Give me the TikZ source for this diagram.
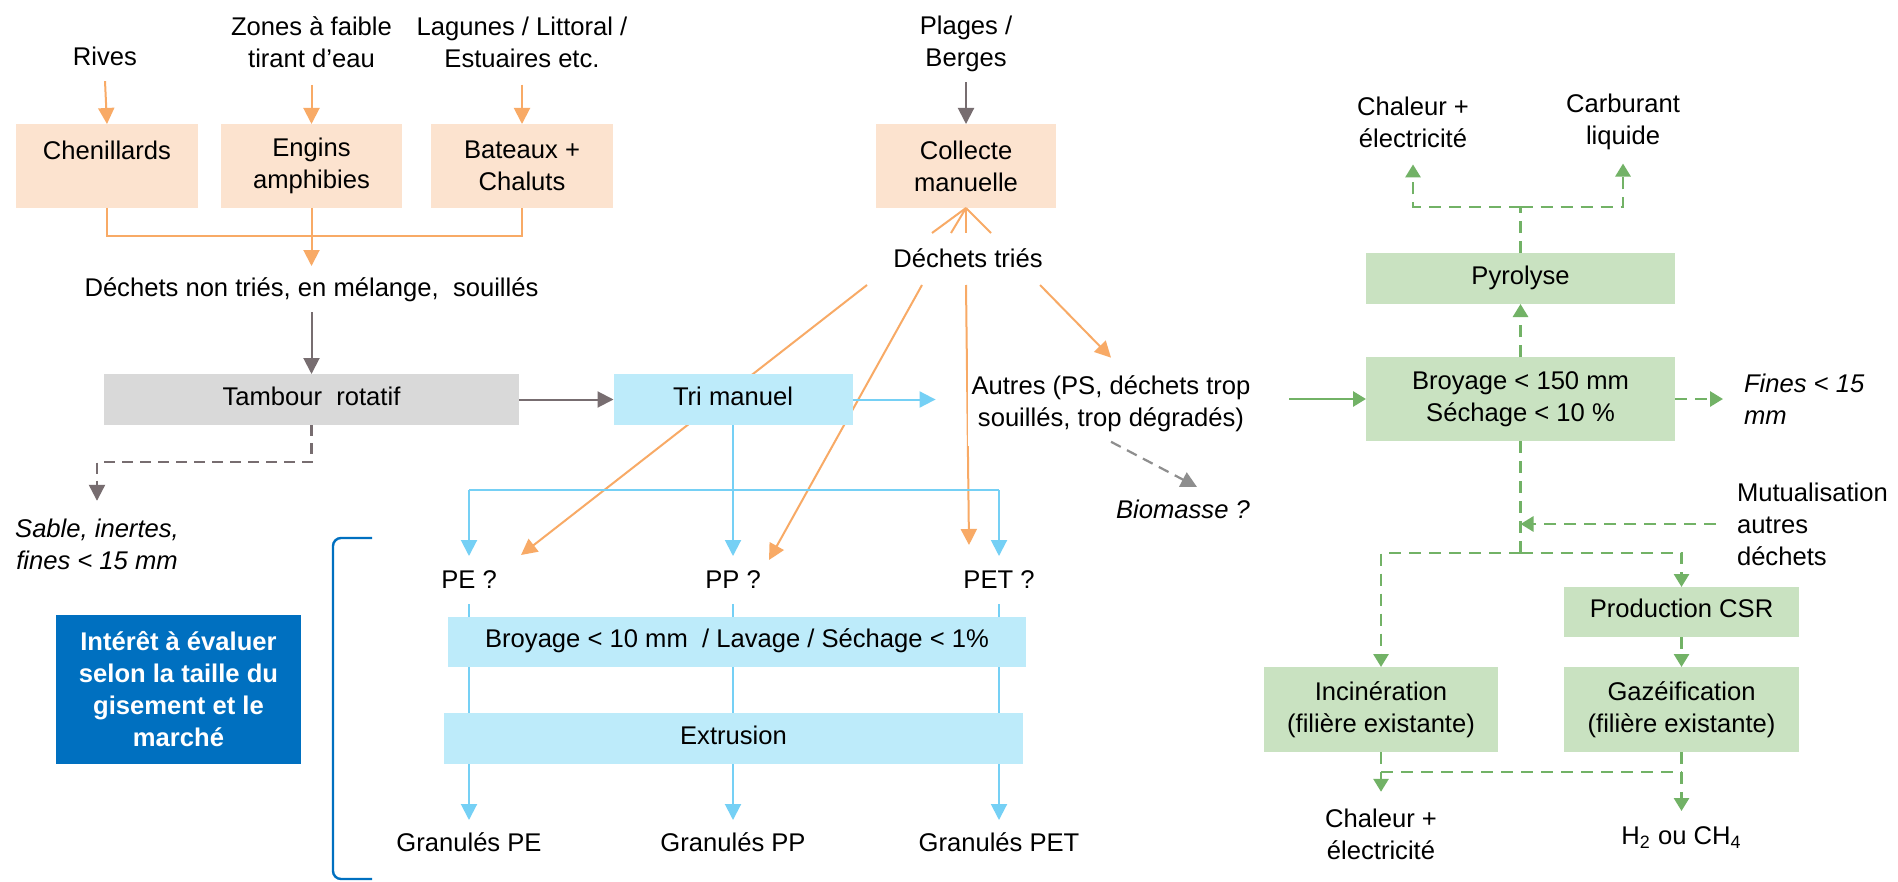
\documentclass[tikz,border=0pt]{standalone}
\usepackage{fontspec}
\setmainfont{Liberation Sans}
\usetikzlibrary{arrows.meta,calc}
\pgfdeclarelayer{back}
\pgfdeclarelayer{bg}
\pgfsetlayers{back,bg,main}
\definecolor{cPeach}{HTML}{FCE3CF}
\definecolor{cOr}{HTML}{F8AA66}
\definecolor{cGr}{HTML}{776D70}
\definecolor{cGrBox}{HTML}{D9D9D9}
\definecolor{cLb}{HTML}{BDEBFA}
\definecolor{cBl}{HTML}{75D0F5}
\definecolor{cGf}{HTML}{C9E2C1}
\definecolor{cGl}{HTML}{72B266}
\definecolor{cDb}{HTML}{0070C0}
\definecolor{cBio}{HTML}{8E8E8E}
\begin{document}
\begin{tikzpicture}[x=0.5pt,y=-0.5pt,
  every node/.style={inner sep=0pt,outer sep=0pt,align=center,font=\fontsize{12.8}{16}\selectfont},
  itf/.style={font=\fontsize{12.8}{16}\selectfont\itshape},
  t1/.style={text height=0.8em,text depth=0.25em},
  obox/.style={fill=cPeach,minimum width=91pt,minimum height=42pt},
  bbox/.style={fill=cLb,t1},
  gbox/.style={fill=cGf},
  tip/.style={-{Triangle[length=8pt,width=8pt]}},
  gtip/.style={-{Triangle[length=6.5pt,width=7.5pt]}},
  ol/.style={draw=cOr,line width=1pt},
  oa/.style={ol,tip},
  ga/.style={draw=cGr,line width=1pt,tip},
  gd/.style={draw=cGr,line width=1.1pt,dash pattern=on 5.5pt off 3.5pt,tip},
  bd/.style={draw=cBio,line width=1.1pt,dash pattern=on 5.5pt off 3.5pt,tip},
  bl/.style={draw=cBl,line width=1pt},
  ba/.style={bl,tip},
  grl/.style={draw=cGl,line width=1.4pt,dash pattern=on 6pt off 4pt},
  gra/.style={grl,gtip},
  gsa/.style={draw=cGl,line width=1.4pt,gtip},
  brk/.style={draw=cDb,line width=1.2pt,rounded corners=4pt}
]
\begin{pgfonlayer}{back}
\fill[white] (0,0) rectangle (1898,882);
\end{pgfonlayer}
\useasboundingbox (0,0) rectangle (1898,882);

% ---------- top sources ----------
\node[t1] (rives) at (105,60) {Rives};
\node (zones) at (311.5,42.5) {Zones à faible\\tirant d’eau};
\node (lag) at (522,42.5) {Lagunes / Littoral /\\Estuaires etc.};
\node (plag) at (966,43.7) {Plages /\\Berges};

\node[obox] (chen) at (107,166) {Chenillards\\\mbox{}};
\node[obox,minimum width=90.5pt] (eng) at (311.5,166) {Engins\\amphibies};
\node[obox] (bat) at (522,166) {Bateaux +\\Chaluts};
\node[obox,minimum width=90pt] (coll) at (966,166) {Collecte\\manuelle};

\draw[oa] ([yshift=-5.3pt]rives.south) -- (chen.north);
\draw[oa] ([yshift=-8.4pt]zones.south) -- (eng.north);
\draw[oa] ([yshift=-8.4pt]lag.south) -- (bat.north);
\draw[ga] ([yshift=-5.2pt]plag.south) -- (coll.north);

\coordinate (mrg) at (311.5,236);
\node[t1] (dnt) at (311.5,291) {Déchets non triés, en mélange,~ souillés};
\draw[ol] (chen.south) -- (chen.south |- mrg) -- (bat.south |- mrg) -- (bat.south);
\draw[oa] (eng.south) -- ([yshift=7.25pt]dnt.north);

% ---------- tambour / tri ----------
\node[fill=cGrBox,t1,minimum width=207.5pt,minimum height=25.5pt] (tam) at (311.5,399.5) {Tambour~ rotatif};
\node[bbox,minimum width=119.5pt,minimum height=25.5pt] (tri) at (733,399.5) {Tri manuel};
\draw[ga] ([yshift=-5.3pt]dnt.south) -- (tam.north);
\draw[ga] (tam.east) -- (tri.west);

\node[itf] (sab) at (97,544) {Sable, inertes,\\fines < 15 mm};
\coordinate (k1) at (311.5,462);
\draw[gd] (tam.south) -- (k1) -| ([yshift=8.9pt]sab.north);

% ---------- dechets tries ----------
\node[t1] (dtr) at (968,262) {Déchets triés};
\node[fill=white,inner xsep=2pt,inner ysep=7pt] (aut) at (1111,403.7) {Autres (PS, déchets trop\\souillés, trop dégradés)};
\node[t1,itf] (bio) at (1183,513) {Biomasse ?};

\draw[ol] (coll.south) -- ([xshift=-18pt,yshift=14.5pt]dtr.center);
\draw[ol] (coll.south) -- ([xshift=-8.5pt,yshift=14.5pt]dtr.center);
\draw[ol] (coll.south) -- ([xshift=-1pt,yshift=14.5pt]dtr.center);
\draw[ol] (coll.south) -- ([xshift=11.5pt,yshift=14.5pt]dtr.center);

\draw[ba] (tri.east) -- ([xshift=-16pt]aut.west |- tri.east);
\draw[bd] ([yshift=2pt]aut.south) -- ([xshift=7pt,yshift=7.75pt]bio.north);

% ---------- plastics ----------
\node[t1] (pe) at (469,583) {PE ?};
\node[t1] (pp) at (733,583) {PP ?};
\node[t1] (pet) at (999,583) {PET ?};
\node[bbox,minimum width=289pt,minimum height=25pt] (b10) at (737,642) {Broyage < 10 mm~ / Lavage / Séchage < 1\%};
\node[bbox,minimum width=289.5pt,minimum height=25.5pt] (ext) at (733.5,738.5) {Extrusion};
\node[t1] (gpe) at (469,846) {Granulés PE};
\node[t1] (gpp) at (733,846) {Granulés PP};
\node[t1] (gpet) at (999,846) {Granulés PET};

\begin{pgfonlayer}{bg}
\draw[oa] ([xshift=-50.5pt,yshift=-11.5pt]dtr.center) -- ([xshift=26pt,yshift=14pt]pe.center);
\draw[oa] ([xshift=-23pt,yshift=-11.5pt]dtr.center) -- ([xshift=18pt,yshift=11.5pt]pp.center);
\draw[oa] ([xshift=-1pt,yshift=-11.5pt]dtr.center) -- ([xshift=-15pt,yshift=19pt]pet.center);
\end{pgfonlayer}
\draw[oa] ([xshift=36pt,yshift=-11.5pt]dtr.center) -- ([yshift=2pt]aut.north);

\coordinate (bh) at (733,490);
\draw[bl] (pe |- bh) -- (pet |- bh);
\draw[ba] (tri.south) -- ([yshift=8.25pt]pp.north);
\draw[ba] (pe |- bh) -- ([yshift=8.25pt]pe.north);
\draw[ba] (pet |- bh) -- ([yshift=8.25pt]pet.north);
\foreach \n/\g in {pe/gpe,pp/gpp,pet/gpet}{
  \draw[bl] ([yshift=-5.3pt]\n.south) -- (\n.south |- b10.north);
  \draw[bl] (\n |- b10.south) -- (\n |- ext.north);
  \draw[ba] (\n |- ext.south) -- ([yshift=7.75pt]\g.north);
}

% ---------- bracket and note ----------
\draw[brk] (372,538) -- (333,538) -- (333,879) -- (372,879);
\node[fill=cDb,text=white,font=\fontsize{12.8}{16}\selectfont\bfseries,minimum width=122.5pt,minimum height=74.5pt] (eval) at (178.5,689.5) {Intérêt à évaluer\\selon la taille du\\gisement et le\\marché};

% ---------- energy branch ----------
\node[gbox,minimum width=154.5pt,minimum height=42pt] (b150) at (1520.5,399) {Broyage < 150 mm\\Séchage < 10 \%};
\node[gbox,t1,minimum width=154.5pt,minimum height=25.5pt] (pyro) at (1520.5,278.5) {Pyrolyse};
\node (chal1) at (1413,122) {Chaleur +\\électricité};
\node (carb) at (1623,122.2) {Carburant\\liquide};
\node[anchor=west,align=left,itf] (fines) at (1744,399) {Fines < 15\\mm};
\node[anchor=west,align=left] (mutu) at (1737,524) {Mutualisation\\autres\\déchets};
\node[gbox,t1,minimum width=117.5pt,minimum height=25pt] (csr) at (1681.5,612) {Production CSR};
\node[gbox,minimum width=117pt,minimum height=42.5pt] (inc) at (1381,709.5) {Incinération\\(filière existante)};
\node[gbox,minimum width=117.5pt,minimum height=42.5pt] (gaz) at (1681.5,709.5) {Gazéification\\(filière existante)};
\node (chal2) at (1381,834) {Chaleur +\\électricité};
\node[t1] (h2) at (1681.5,839) {H\textsubscript{2} ou CH\textsubscript{4}};

\draw[gsa] ([xshift=17.5pt]aut.east |- b150.west) -- (b150.west);
\draw[gra] (b150.north) -- (pyro.south);
\coordinate (ph) at (1520.5,207);
\draw[grl] (pyro.north) -- (pyro.north |- ph);
\draw[gra] (pyro.north |- ph) -| ([yshift=-8.5pt]chal1.south);
\draw[gra] (pyro.north |- ph) -| ([yshift=-6.7pt]carb.south);
\draw[gra] (b150.east) -- ([xshift=-10.5pt]fines.west);
\coordinate (br) at (1520.5,553);
\draw[grl] (b150.south) -- (br);
\draw[gra] ([xshift=-10.5pt]mutu.west) -- (b150.south |- mutu.west);
\draw[gra] (br) -| (inc.north);
\draw[gra] (br) -| (csr.north);
\draw[gra] (csr.south) -- (gaz.north);
\draw[gra] (inc.south) -- ([yshift=8.4pt]chal2.north);
\draw[gra] (gaz.south) -- ([yshift=8.75pt]h2.north);
\coordinate (bb) at (1500,772);
\draw[grl] (inc.south |- bb) -- (gaz.south |- bb);
\end{tikzpicture}
\end{document}
